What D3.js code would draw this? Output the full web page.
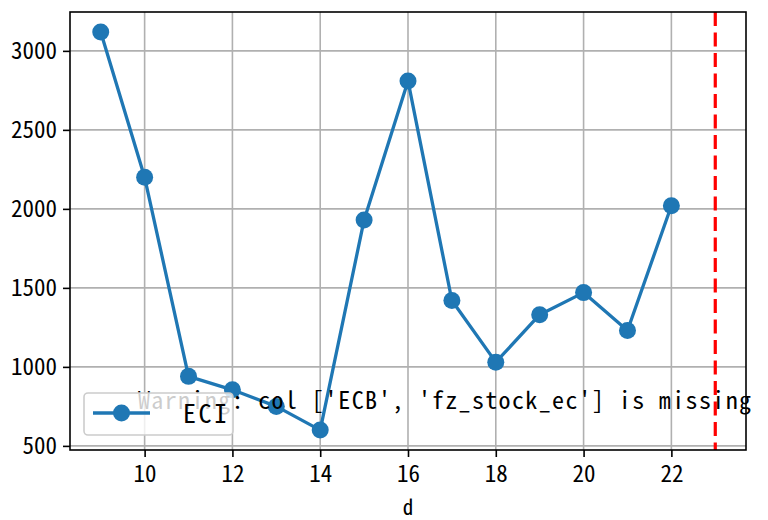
<!DOCTYPE html>
<html><head><meta charset="utf-8">
<script src="https://cdn.jsdelivr.net/npm/d3@7"></script>
<style>html,body{margin:0;padding:0;background:#fff}</style>
</head><body>
<script>
const days = [9,10,11,12,13,14,15,16,17,18,19,20,21,22];
const eci = [3120,2200,940,855,750,600,1930,2810,1420,1030,1330,1470,1230,2020];
const xTicks = [10,12,14,16,18,20,22];
const yTicks = [500,1000,1500,2000,2500,3000];
const markerDay = 23;
const seriesName = "ECI";
const xLabel = "d";
const warning = "Warning: col ['ECB', 'fz_stock_ec'] is missing";

const W = 768, H = 520;
const m = {left:70, right:746, top:12, bottom:450};
const FONT = "'Noto Sans Mono CJK JP','Noto Sans CJK JP','DejaVu Sans Mono',monospace";

const svg = d3.select("body").append("svg").attr("width",W).attr("height",H);

const xMin = d3.min(days), xMax = Math.max(d3.max(days), markerDay);
const xPad = (xMax-xMin)*0.05;
const yMin = d3.min(eci), yMax = d3.max(eci);
const yPad = (yMax-yMin)*0.05;
const x = d3.scaleLinear().domain([xMin-xPad, xMax+xPad]).range([m.left, m.right]);
const y = d3.scaleLinear().domain([yMin-yPad, yMax+yPad]).range([m.bottom, m.top]);

// grid
const g = svg.append("g");
g.selectAll(".gx").data(xTicks).enter().append("line")
  .attr("x1",d=>x(d)).attr("x2",d=>x(d)).attr("y1",m.top).attr("y2",m.bottom)
  .attr("stroke","#b0b0b0").attr("stroke-width",1.6);
g.selectAll(".gy").data(yTicks).enter().append("line")
  .attr("x1",m.left).attr("x2",m.right).attr("y1",d=>y(d)).attr("y2",d=>y(d))
  .attr("stroke","#b0b0b0").attr("stroke-width",1.6);

// line
const data = days.map((d,i)=>({d, v:eci[i]}));
svg.append("path").datum(data)
  .attr("fill","none").attr("stroke","#1f77b4").attr("stroke-width",3.3)
  .attr("stroke-linejoin","round")
  .attr("d", d3.line().x(p=>x(p.d)).y(p=>y(p.v)));
svg.selectAll(".pt").data(data).enter().append("circle")
  .attr("cx",p=>x(p.d)).attr("cy",p=>y(p.v)).attr("r",8.5).attr("fill","#1f77b4");

// red dashed vertical line
svg.append("line")
  .attr("x1",x(markerDay)).attr("x2",x(markerDay)).attr("y1",m.top).attr("y2",m.bottom)
  .attr("stroke","red").attr("stroke-width",3.2).attr("stroke-dasharray","14,6.5");

// warning text
svg.append("text").attr("x",138).attr("y",409)
  .attr("font-family",FONT).attr("font-size",24).attr("fill","#000")
  .attr("textLength",613).attr("lengthAdjust","spacing")
  .text(warning);

// legend
const lg = svg.append("g");
lg.append("rect").attr("x",84).attr("y",393).attr("width",149).attr("height",42)
  .attr("rx",4).attr("fill","#fff").attr("fill-opacity",0.8)
  .attr("stroke","#cccccc").attr("stroke-width",1.6);
lg.append("line").attr("x1",93).attr("x2",150).attr("y1",413).attr("y2",413)
  .attr("stroke","#1f77b4").attr("stroke-width",3.3);
lg.append("circle").attr("cx",121.5).attr("cy",413).attr("r",8.5).attr("fill","#1f77b4");
lg.append("text").attr("x",183).attr("y",423)
  .attr("font-family",FONT).attr("font-size",26).attr("fill","#000")
  .attr("textLength",44).attr("lengthAdjust","spacing")
  .text(seriesName);

// axes
const xAxis = svg.append("g").attr("transform",`translate(0,${m.bottom})`)
  .call(d3.axisBottom(x).tickValues(xTicks).tickSize(7).tickPadding(9).tickFormat(d3.format("d")));
const yAxis = svg.append("g").attr("transform",`translate(${m.left},0)`)
  .call(d3.axisLeft(y).tickValues(yTicks).tickSize(7).tickPadding(6).tickFormat(d3.format("d")));
[xAxis,yAxis].forEach(a=>{
  a.select(".domain").remove();
  a.selectAll(".tick line").attr("stroke","#000").attr("stroke-width",1.6);
  a.selectAll("text").attr("font-family",FONT).attr("font-size",23).attr("fill","#000");
});
yAxis.selectAll("text").attr("dy","0.35em");

// spines
svg.append("rect").attr("x",m.left).attr("y",m.top)
  .attr("width",m.right-m.left).attr("height",m.bottom-m.top)
  .attr("fill","none").attr("stroke","#000").attr("stroke-width",1.6);

// x label
svg.append("text").attr("x",(m.left+m.right)/2).attr("y",515)
  .attr("text-anchor","middle").attr("font-family",FONT).attr("font-size",21).attr("fill","#000")
  .text(xLabel);
</script>
</body></html>
